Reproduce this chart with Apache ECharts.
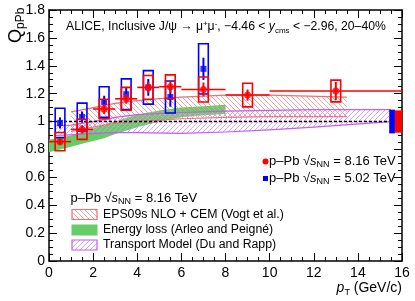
<!DOCTYPE html>
<html><head><meta charset="utf-8">
<script src="https://cdn.jsdelivr.net/npm/echarts@6/dist/echarts.min.js"></script>
<style>html,body{margin:0;padding:0;background:#fff}#c{width:415px;height:301px}</style>
</head><body><div id="c"></div>
<script>
// ---- data ----
const pt816 = [0.5, 1.5, 2.5, 3.5, 4.5, 5.5, 7, 9, 13];
const ptHalf816 = [0.5, 0.5, 0.5, 0.5, 0.5, 0.5, 1, 1, 3];
const q816 = [0.856, 0.944, 1.09, 1.163, 1.245, 1.25, 1.23, 1.19, 1.219];
const stat816 = [0.025, 0.03, 0.035, 0.035, 0.04, 0.045, 0.05, 0.04, 0.065];
const syst816 = [0.065, 0.072, 0.07, 0.082, 0.085, 0.085, 0.09, 0.085, 0.078];
const pt502 = [0.5, 1.5, 2.5, 3.5, 4.5, 5.5, 7];
const q502 = [0.99, 1.032, 1.14, 1.196, 1.245, 1.176, 1.378];
const stat502 = [0.04, 0.04, 0.045, 0.045, 0.06, 0.07, 0.08];
const syst502 = [0.105, 0.1, 0.11, 0.11, 0.12, 0.115, 0.18];
const global502 = [15.42, 15.68, 0.085];
const global816 = [15.68, 16.0, 0.08];
const epsPt = [1, 2, 3, 4, 5, 6, 8, 10, 13.5];
const epsLow = [0.93, 0.96, 0.99, 1.0, 1.01, 1.02, 1.03, 1.035, 1.035];
const epsHigh = [1.07, 1.1, 1.13, 1.15, 1.165, 1.175, 1.19, 1.19, 1.175];
const elossPt = [0, 0.5, 1, 1.5, 2, 2.5, 3, 4, 5, 6, 7, 8];
const elossLow = [0.78, 0.8, 0.82, 0.84, 0.86, 0.88, 0.91, 0.96, 1.0, 1.03, 1.045, 1.055];
const elossHigh = [0.87, 0.885, 0.9, 0.925, 0.95, 0.98, 1.0, 1.05, 1.08, 1.1, 1.11, 1.12];
const trPt = [0.3, 1, 2, 3, 4, 6, 8, 10, 12, 15.5];
const trLow = [0.9, 0.905, 0.915, 0.92, 0.92, 0.915, 0.925, 0.94, 0.96, 1.0];
const trHigh = [0.97, 0.975, 1.0, 1.03, 1.05, 1.065, 1.075, 1.08, 1.085, 1.085];
const unityLine = [[0, 1], [15.4, 1]];
const xTicks = [0, 2, 4, 6, 8, 10, 12, 14, 16];
const yTicks = [0, 0.2, 0.4, 0.6, 0.8, 1, 1.2, 1.4, 1.6, 1.8];

const RED = '#ff0000', BLUE = '#0000ff';
const EPS_C = '#f26d6d', GREEN = '#66cc66', PURPLE = '#c35cf0';
const FONT = '"Liberation Sans", Arial, sans-serif';

function hatch(color, dir) {
  const s = 5, c = document.createElement('canvas');
  c.width = c.height = s;
  const g = c.getContext('2d');
  g.strokeStyle = color; g.lineWidth = 0.9;
  g.beginPath();
  for (let k = -1; k <= 1; k++) {
    if (dir > 0) { g.moveTo(k * s, s); g.lineTo(k * s + s, 0); }
    else { g.moveTo(k * s, 0); g.lineTo(k * s + s, s); }
  }
  g.stroke();
  return c;
}
const epsPat = { image: hatch('#f49a9a', -1), repeat: 'repeat' };
const trPat = { image: hatch('#d79af5', 1), repeat: 'repeat' };

function band(xs, lo, hi, fill, edge, z) {
  return {
    type: 'custom', z: z, silent: true, data: [0], clip: true,
    renderItem: function (params, api) {
      const up = xs.map((x, i) => api.coord([x, hi[i]]));
      const dn = xs.map((x, i) => api.coord([x, lo[i]]));
      const ch = [{ type: 'polygon', shape: { points: up.concat(dn.slice().reverse()) }, style: { fill: fill } }];
      if (edge) {
        ch.push({ type: 'polyline', shape: { points: up }, style: { stroke: edge, lineWidth: 1.2, fill: null } });
        ch.push({ type: 'polyline', shape: { points: dn }, style: { stroke: edge, lineWidth: 1.2, fill: null } });
      }
      return { type: 'group', children: ch };
    }
  };
}

function boxes(xs, ys, sy, color, z) {
  return {
    type: 'custom', z: z, silent: true,
    data: xs.map((x, i) => [x, ys[i], sy[i]]),
    renderItem: function (params, api) {
      const x = api.value(0), y = api.value(1), s = api.value(2);
      const a = api.coord([x - 0.22, y + s]), b = api.coord([x + 0.22, y - s]);
      return { type: 'rect', shape: { x: a[0], y: a[1], width: b[0] - a[0], height: b[1] - a[1] },
        style: { fill: null, stroke: color, lineWidth: 1.6 } };
    }
  };
}

function bars(xs, hw, ys, st, color, z) {
  return {
    type: 'custom', z: z, silent: true,
    data: xs.map((x, i) => [x, ys[i], st[i], hw ? hw[i] : 0]),
    renderItem: function (params, api) {
      const x = api.value(0), y = api.value(1), s = api.value(2), h = api.value(3);
      const ch = [];
      const v1 = api.coord([x, y - s]), v2 = api.coord([x, y + s]);
      ch.push({ type: 'line', shape: { x1: v1[0], y1: v1[1], x2: v2[0], y2: v2[1] }, style: { stroke: color, lineWidth: 2 } });
      if (h > 0) {
        const h1 = api.coord([x - h, y]), h2 = api.coord([x + h, y]);
        ch.push({ type: 'line', shape: { x1: h1[0], y1: h1[1], x2: h2[0], y2: h2[1] }, style: { stroke: color, lineWidth: 1.6 } });
      }
      return { type: 'group', children: ch };
    }
  };
}

function globalBox(g, color, z) {
  return {
    type: 'custom', z: z, silent: true, data: [[g[0], g[1], g[2]]],
    renderItem: function (params, api) {
      const a = api.coord([api.value(0), 1 + api.value(2)]), b = api.coord([api.value(1), 1 - api.value(2)]);
      return { type: 'rect', shape: { x: a[0], y: a[1], width: b[0] - a[0], height: b[1] - a[1] }, style: { fill: color } };
    }
  };
}

const chart = echarts.init(document.getElementById('c'), null, { renderer: 'canvas' });
const axisBase = {
  type: 'value', splitLine: { show: false },
  axisLine: { show: true, onZero: false, lineStyle: { color: '#000', width: 1.5 } },
  axisTick: { show: true, inside: true, length: 8, lineStyle: { color: '#000', width: 1 } },
  minorTick: { show: true, splitNumber: 4, length: 4, lineStyle: { color: '#000', width: 1 } },
};
const xAx = Object.assign({}, axisBase, { min: xTicks[0], max: xTicks[xTicks.length - 1], interval: xTicks[1] - xTicks[0],
  axisLabel: { color: '#000', fontSize: 14, fontFamily: FONT, margin: 5 } });
const yAx = Object.assign({}, axisBase, { min: yTicks[0], max: yTicks[yTicks.length - 1], interval: 0.2,
  axisLabel: { color: '#000', fontSize: 14, fontFamily: FONT, margin: 4 } });

const sqrtRich = {
  it: { fontStyle: 'italic', fontSize: 13, fontFamily: FONT, color: '#000' },
  sub: { fontSize: 9, fontFamily: FONT, color: '#000', verticalAlign: 'bottom', padding: [6, 0, 0, 0] },
  n: { fontSize: 13, fontFamily: FONT, color: '#000' }
};
function sqrtLabel(e) { return '{n|p–Pb √}{it|s}{sub|NN}{n| = ' + e + ' TeV}'; }

chart.setOption({
  animation: false,
  grid: { left: 49, right: 13, top: 10, bottom: 40 },
  xAxis: [xAx, Object.assign({}, xAx, { position: 'top', axisLabel: { show: false } })],
  yAxis: [yAx, Object.assign({}, yAx, { position: 'right', axisLabel: { show: false } })],
  series: [
    band(elossPt, elossLow, elossHigh, GREEN, null, 1),
    band(epsPt, epsLow, epsHigh, epsPat, EPS_C, 2),
    band(trPt, trLow, trHigh, trPat, PURPLE, 3),
    { type: 'line', z: 4, data: unityLine, symbol: 'none', silent: true,
      lineStyle: { color: '#000', width: 1.5, type: [3, 2] } },
    globalBox(global502, BLUE, 5),
    globalBox(global816, RED, 5),
    boxes(pt502, q502, syst502, BLUE, 6),
    bars(pt502, null, q502, stat502, BLUE, 7),
    { type: 'scatter', z: 8, data: pt502.map((x, i) => [x, q502[i]]), symbol: 'rect', symbolSize: 6,
      itemStyle: { color: BLUE }, silent: true },
    boxes(pt816, q816, syst816, RED, 9),
    bars(pt816, ptHalf816, q816, stat816, RED, 10),
    { type: 'scatter', z: 11, data: pt816.map((x, i) => [x, q816[i]]), symbol: 'circle', symbolSize: 7,
      itemStyle: { color: RED }, silent: true }
  ],
  graphic: [
    { type: 'text', x: 66, y: 27, style: { text: '{n|ALICE, Inclusive J/ψ → μ}{sup|+}{n|μ}{sup|-}{n|, −4.46 < }{it|y}{sub|cms}{n| < −2.96, 20–40%}',
      verticalAlign: 'middle', rich: {
        n: { fontSize: 12.2, fontFamily: FONT, color: '#000' },
        it: { fontSize: 12.2, fontFamily: FONT, fontStyle: 'italic', color: '#000' },
        sup: { fontSize: 8, fontFamily: FONT, color: '#000', padding: [0, 0, 7, 0] },
        sub: { fontSize: 8, fontFamily: FONT, color: '#000', padding: [8, 0, 0, 0] } } } },
    { type: 'text', x: 16, y: 43, rotation: Math.PI / 2, style: { text: '{q|Q}{s|pPb}', verticalAlign: 'middle', align: 'left',
      rich: { q: { fontSize: 18, fontFamily: FONT, color: '#000' }, s: { fontSize: 12, fontFamily: FONT, color: '#000', padding: [10, 0, 0, 0] } } } },
    { type: 'text', x: 402, y: 288, style: { text: '{p|p}{t|T}{n| (GeV/c)}', align: 'right', verticalAlign: 'middle',
      rich: { p: { fontSize: 14, fontStyle: 'italic', fontFamily: FONT, color: '#000' }, t: { fontSize: 9, fontFamily: FONT, color: '#000', padding: [10, 0, 0, 0] },
        n: { fontSize: 14, fontFamily: FONT, color: '#000' } } } },
    // right legend
    { type: 'circle', shape: { cx: 265.5, cy: 161.5, r: 3 }, style: { fill: RED } },
    { type: 'text', x: 269, y: 161.5, style: { text: sqrtLabel('8.16'), verticalAlign: 'middle', rich: sqrtRich } },
    { type: 'rect', shape: { x: 263, y: 176, width: 5, height: 5 }, style: { fill: BLUE } },
    { type: 'text', x: 269, y: 178.5, style: { text: sqrtLabel('5.02'), verticalAlign: 'middle', rich: sqrtRich } },
    // left legend
    { type: 'text', x: 70.5, y: 198.5, style: { text: sqrtLabel('8.16'), verticalAlign: 'middle', rich: sqrtRich } },
    { type: 'rect', shape: { x: 72, y: 209.5, width: 25, height: 10 }, style: { fill: epsPat, stroke: EPS_C, lineWidth: 1.2 } },
    { type: 'text', x: 103, y: 215, style: { text: 'EPS09s NLO + CEM (Vogt et al.)', verticalAlign: 'middle', fontSize: 12.3, fontFamily: FONT, fill: '#000' } },
    { type: 'rect', shape: { x: 71.5, y: 224.5, width: 26, height: 11 }, style: { fill: GREEN } },
    { type: 'text', x: 103, y: 230, style: { text: 'Energy loss (Arleo and Peigné)', verticalAlign: 'middle', fontSize: 12.3, fontFamily: FONT, fill: '#000' } },
    { type: 'rect', shape: { x: 72, y: 240, width: 25, height: 10 }, style: { fill: trPat, stroke: PURPLE, lineWidth: 1.2 } },
    { type: 'text', x: 103, y: 245, style: { text: 'Transport Model (Du and Rapp)', verticalAlign: 'middle', fontSize: 12.3, fontFamily: FONT, fill: '#000' } }
  ]
});
</script></body></html>
